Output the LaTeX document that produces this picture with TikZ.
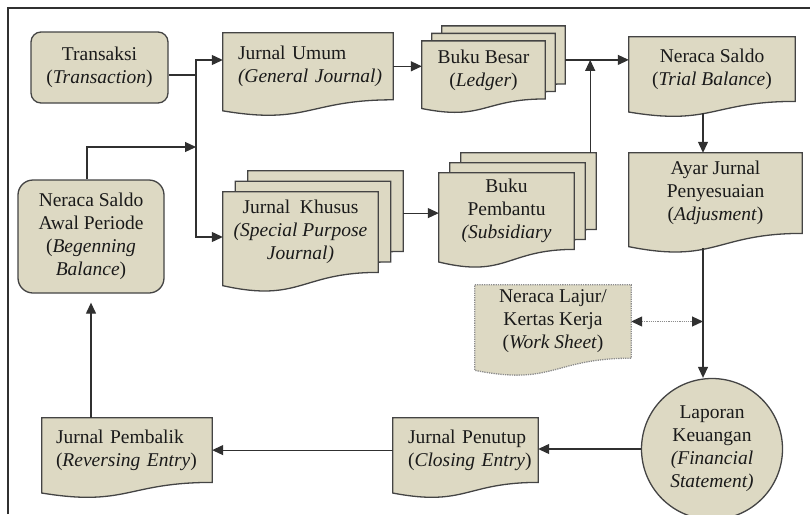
\documentclass[tikz,border=0pt]{standalone}
\usepackage{fontspec}
\setmainfont{Liberation Serif}
\usetikzlibrary{calc,arrows.meta,backgrounds}

\definecolor{tan}{HTML}{DDD9C3}
\definecolor{edge}{HTML}{444444}
\definecolor{wire}{HTML}{303030}
\definecolor{ink}{HTML}{1A1A1A}
\definecolor{dotline}{HTML}{8C8C8C}

% Document outline (flat top, wavy bottom) around a body node; #2 shifts the copy
\newcommand\docpath[2]{%
  ($(#1.north west)+(#2)$) -- ($(#1.north east)+(#2)$) -- ($(#1.south east)+(#2)$)
  .. controls ($(#1.south)+(#2)$) and ($(#1.north)!1.38!(#1.south)+(#2)$)
  .. ($(#1.north west)!1.1646!(#1.south west)+(#2)$) -- cycle}
% indented line for left-aligned document texts
\newcommand\ind{\hspace*{15pt}}

\begin{document}
\begin{tikzpicture}[x=1pt,y=-1pt,
  font=\fontsize{19.5}{23}\selectfont,
  every node/.style={inner sep=0pt, text=ink},
  boxbody/.style={fill=tan, draw=edge, line width=1.3pt},
  roundbox/.style={boxbody, rounded corners=#1, align=center},
  docbody/.style={align=center},
  docleft/.style={align=left},
  wire/.style={draw=wire, line width=1.2pt},
  tip/.style={-{Triangle[length=11pt,width=10pt]}},
  arr/.style={wire, tip},
  dotarrow/.style={draw=dotline, line width=1.2pt, densely dotted,
    {Triangle[length=11pt,width=10pt,color=wire]}-{Triangle[length=11pt,width=10pt,color=wire]}},
]
\useasboundingbox (0,0) rectangle (810,514);

% outer frame
\coordinate (fbl) at (8,514);
\coordinate (ftl) at (8,8);
\coordinate (ftr) at (810,8);
\draw[wire] (fbl) -- (ftl) -- (ftr);

% rounded boxes
\node[roundbox=10pt, minimum width=137pt, minimum height=71pt] (tr) at (99.5,67.5)
  {Transaksi\\(\textit{Transaction})};
\node[roundbox=15pt, minimum width=146pt, minimum height=113pt] (nsa) at (91,236.5)
  {Neraca Saldo\\Awal Periode\\(\textit{Begenning}\\\textit{Balance})};

% document bodies
\node[docleft, text width=170pt, minimum height=66.6pt] (ju) at (308,66.3)
  {\ind Jurnal Umum\\\ind\textit{(General Journal)}};
\node[docbody, minimum width=123pt, minimum height=57.7pt] (bb) at (483.5,69.9)
  {Buku Besar\\(\textit{Ledger})};
\node[docbody, minimum width=166pt, minimum height=64.2pt] (ns) at (712,69.1)
  {Neraca Saldo\\(\textit{Trial Balance})};
\node[docbody, minimum width=173pt, minimum height=80.2pt] (aj) at (715.5,193.1)
  {Ayar Jurnal\\Penyesuaian\\(\textit{Adjusment})};
\node[docbody, minimum width=155pt, minimum height=80.2pt] (jk) at (300.5,232.1)
  {Jurnal~ Khusus\\\textit{(Special Purpose}\\\textit{Journal)}};
\node[docbody, minimum width=135pt, minimum height=76.2pt] (bp) at (506.5,211.1)
  {Buku\\Pembantu\\\textit{(Subsidiary}};
\node[docbody, minimum width=156pt, minimum height=73pt] (nl) at (553,321.5)
  {Neraca Lajur/\\Kertas Kerja\\(\textit{Work Sheet})};
\node[docleft, text width=145pt, minimum height=64.2pt] (jp) at (465.5,450.1)
  {\ind Jurnal Penutup\\\ind(\textit{Closing Entry})};
\node[docleft, text width=170pt, minimum height=64.2pt] (jpb) at (127,450.1)
  {\hspace*{14pt}Jurnal Pembalik\\\hspace*{14pt}(\textit{Reversing Entry})};

% financial statement circle
\node[circle, boxbody, minimum size=141pt, align=center] (lk) at (712,449)
  {Laporan\\Keuangan\\\textit{(Financial}\\\textit{Statement)}};

% document outlines behind the texts
\begin{scope}[on background layer]
  \path[boxbody] \docpath{ju}{0,0};
  \path[boxbody] \docpath{bb}{20,-15};
  \path[boxbody] \docpath{bb}{10,-7.5};
  \path[boxbody] \docpath{bb}{0,0};
  \path[boxbody] \docpath{ns}{0,0};
  \path[boxbody] \docpath{aj}{0,0};
  \path[boxbody] \docpath{jk}{25,-21};
  \path[boxbody] \docpath{jk}{12.5,-10.5};
  \path[boxbody] \docpath{jk}{0,0};
  \path[boxbody] \docpath{bp}{22,-20};
  \path[boxbody] \docpath{bp}{11,-10};
  \path[boxbody] \docpath{bp}{0,0};
  \path[boxbody, draw=dotline, densely dotted] \docpath{nl}{0,0};
  \path[boxbody] \docpath{jp}{0,0};
  \path[boxbody] \docpath{jpb}{0,0};
\end{scope}

% junction points
\coordinate (jtop) at (196,60);
\coordinate (jmid) at (196,75);
\coordinate (jin)  at (196,147);
\coordinate (jbot) at (196,237);
\coordinate (bbout) at ($(bb.east)+(20,-10)$);
\coordinate (bpup) at ($(bp.north east)+(16,-20)$);
\coordinate (jkout) at ($(jk.east)+(25,-19)$);
\coordinate (nsout) at ($(ns.south)+(-9,12)$);
\coordinate (ajout) at ($(aj.south)+(-12.5,15)$);

% connectors
\draw[wire] (tr.east |- jmid) -- (jmid);
\draw[arr] (jmid) -- (jtop) -- (ju.west |- jtop);
\draw[arr] (jmid) -- (jbot) -- (jk.west |- jbot);
\draw[arr] ([xshift=-4pt]nsa.north) |- (jin);
\draw[arr] (ju.east) -- (bb.west |- ju.east);
\draw[arr] (bbout) -- (bbout -| ns.west);
\draw[arr] (bpup) -- (bpup |- bbout);
\draw[arr] (jkout) -- (jkout -| bp.west);
\draw[arr] (nsout) -- (nsout |- aj.north);
\draw[arr] (ajout) -- (ajout |- lk.north);
\draw[dotarrow] (nl.east) -- (nl.east -| ajout);
\draw[arr] (lk.west) -- (jp.east |- lk.west);
\draw[arr] (jp.west) -- (jpb.east |- jp.west);
\draw[arr, shorten >=9pt] (jpb.north -| nsa.south) -- (nsa.south);
\end{tikzpicture}
\end{document}
